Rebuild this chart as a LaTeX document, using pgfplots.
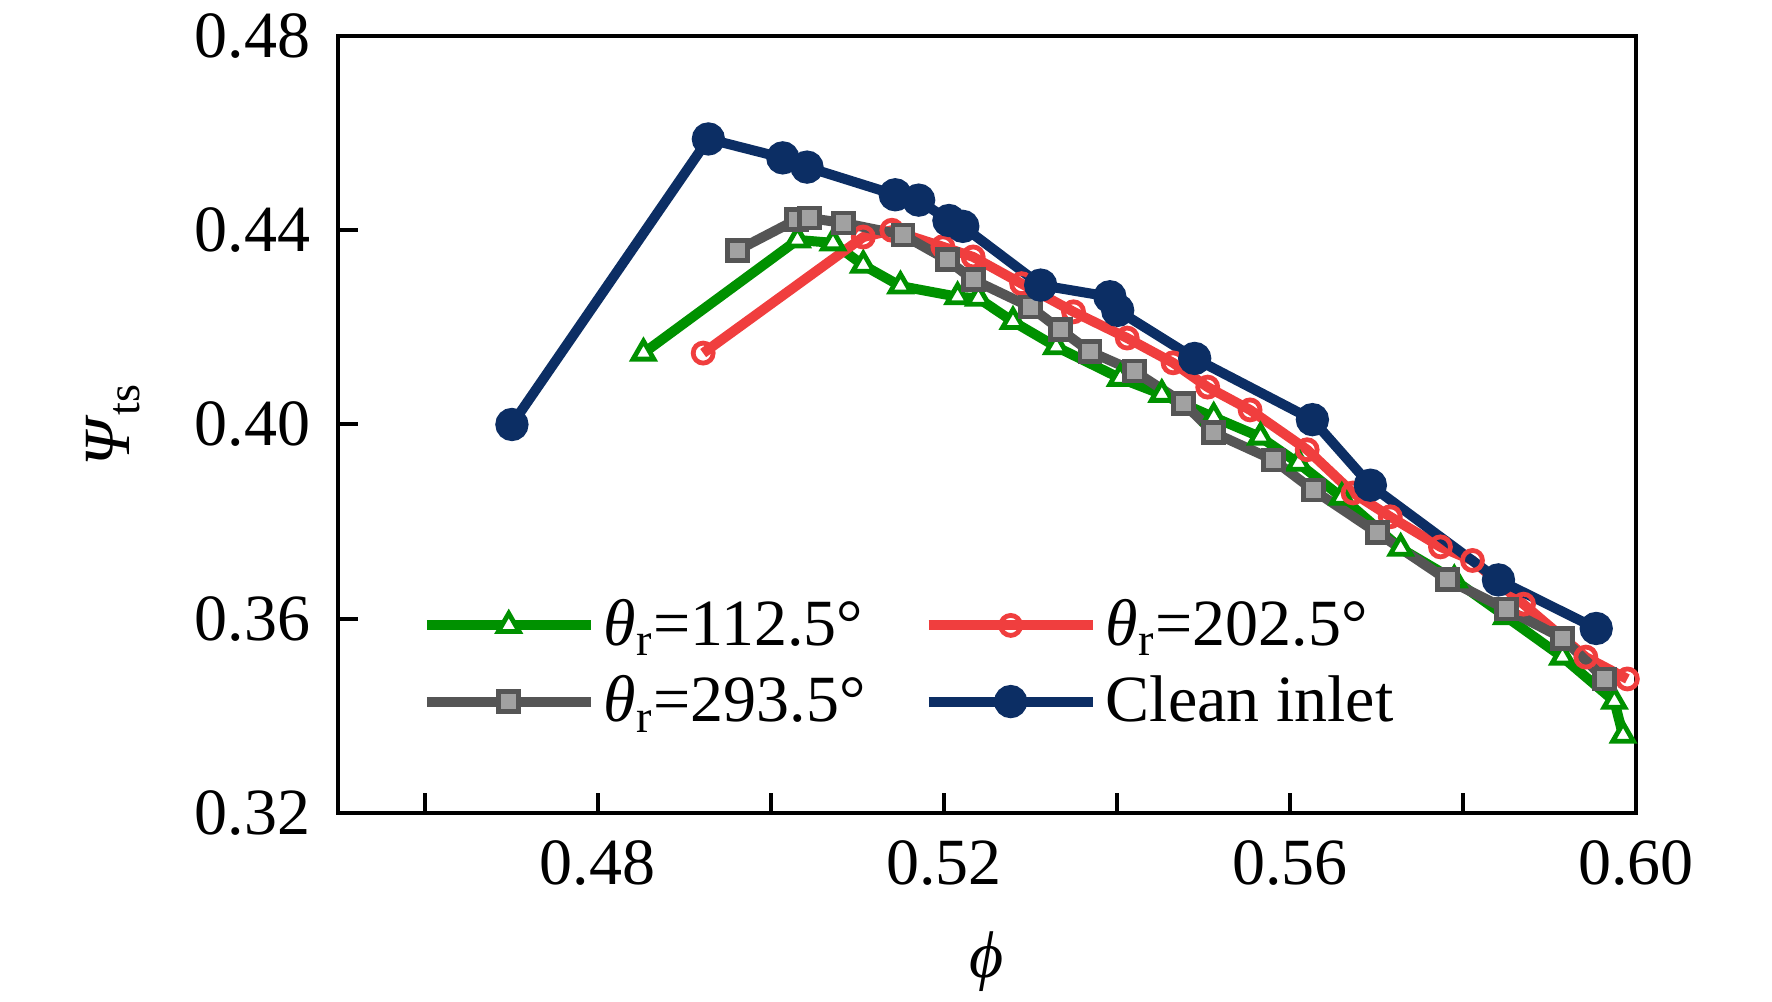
\documentclass[border=0pt]{standalone}
\usepackage{fontspec}
\setmainfont{Liberation Serif}
\usepackage{pgfplots}
\pgfplotsset{compat=1.18}
\definecolor{cgreen}{RGB}{0,145,0}
\definecolor{cred}{RGB}{240,62,62}
\definecolor{cgray}{RGB}{85,85,85}
\definecolor{cnavy}{RGB}{12,46,100}
\newcommand{\fs}{\fontsize{16.5}{19.8}\selectfont}
\begin{document}
\begin{tikzpicture}
\useasboundingbox (-84.5pt,-47.25pt) rectangle (358.5pt,203.25pt);
\begin{axis}[
  at={(0pt,0pt)}, anchor=south west,
  scale only axis, width=324.5pt, height=194.25pt,
  xmin=0.45, xmax=0.60, ymin=0.32, ymax=0.48,
  xtick={0.48,0.52,0.56,0.60},
  minor xtick={0.46,0.50,0.54,0.58},
  ytick={0.32,0.36,0.40,0.44,0.48},
  tick align=inside, tick pos=left,
  major tick length=5pt, minor tick length=5pt,
  every tick/.style={black, line width=1pt},
  axis line style={line width=1pt},
  /pgf/number format/.cd, fixed, fixed zerofill, precision=2, assume math mode=true,
  /pgfplots/.cd,
  tick label style={font=\fs},
  xticklabel style={anchor=center, yshift=-12.5pt},
  yticklabel style={anchor=east, inner sep=0pt, xshift=-6.75pt},
  xlabel={\textit{ϕ}},
  ylabel={\textit{Ψ}\textsubscript{ts}},
  label style={font=\fs},
  xlabel style={at={(axis description cs:0.5,-0.1918)}, anchor=center},
  ylabel style={at={(axis description cs:-0.1733,0.5)}, anchor=center},
  legend columns=2,
  legend cell align=left,
  legend style={draw=none, fill=none, font=\fs, inner sep=0pt,
    at={(axis description cs:0.0639,0.1924)}, anchor=west,
    row sep=2pt,
    /tikz/every even column/.append style={column sep=12.5pt}},
  legend image code/.code={\draw[mark repeat=2,mark phase=2] plot coordinates {(0pt,0pt)(20.5pt,0pt)(41pt,0pt)};},
]
\addplot[cgreen, line width=2.5pt, mark=triangle*, mark size=3pt, mark options={fill=white, line width=1.2pt}] coordinates {
(0.4853,0.4147) (0.5031,0.4380) (0.5072,0.4374) (0.5107,0.4328) (0.5150,0.4285)
(0.5216,0.4263) (0.5240,0.4260) (0.5280,0.4212) (0.5330,0.4160) (0.5404,0.4095)
(0.5452,0.4062) (0.5512,0.4015) (0.5566,0.3974) (0.5610,0.3920) (0.5660,0.3850)
(0.5728,0.3745) (0.5790,0.3680) (0.5850,0.3604) (0.5915,0.3521) (0.5975,0.3430)
(0.5985,0.3360)};
\addlegendentry{\textit{θ}\textsubscript{r}=112.5°}
\addplot[cred, line width=2.5pt, mark=o, mark size=2.5pt, mark options={fill=white, line width=1.2pt}] coordinates {
(0.4922,0.4147) (0.5107,0.4386) (0.5140,0.4400) (0.5199,0.4366) (0.5234,0.4345)
(0.5290,0.4290) (0.5350,0.4232) (0.5412,0.4178) (0.5465,0.4127) (0.5505,0.4077)
(0.5554,0.4030) (0.5620,0.3948) (0.5673,0.3859) (0.5716,0.3810) (0.5774,0.3748)
(0.5811,0.3720) (0.5870,0.3630) (0.5942,0.3521) (0.5990,0.3476)};
\addlegendentry{\textit{θ}\textsubscript{r}=202.5°}
\addplot[cgray, line width=2.5pt, mark=square*, mark size=2.5pt, mark options={fill=cgray!55, line width=1.2pt}] coordinates {
(0.4962,0.4359) (0.5030,0.4422) (0.5045,0.4425) (0.5084,0.4415) (0.5153,0.4390)
(0.5204,0.4339) (0.5234,0.4298) (0.5300,0.4242) (0.5335,0.4195) (0.5369,0.4150)
(0.5420,0.4110) (0.5477,0.4044) (0.5512,0.3983) (0.5581,0.3927) (0.5627,0.3865)
(0.5701,0.3777) (0.5782,0.3680) (0.5850,0.3620) (0.5915,0.3560) (0.5964,0.3476)};
\addlegendentry{\textit{θ}\textsubscript{r}=293.5°}
\addplot[cnavy, line width=2.5pt, mark=*, mark size=2.9pt, mark options={fill=cnavy}] coordinates {
(0.4701,0.4000) (0.4928,0.4588) (0.5014,0.4549) (0.5042,0.4530) (0.5144,0.4473)
(0.5171,0.4462) (0.5206,0.4420) (0.5222,0.4408) (0.5312,0.4287) (0.5392,0.4263)
(0.5401,0.4235) (0.5490,0.4136) (0.5626,0.4010) (0.5693,0.3875) (0.5841,0.3680)
(0.5954,0.3580)};
\addlegendentry{Clean inlet}
\end{axis}
\end{tikzpicture}
\end{document}
